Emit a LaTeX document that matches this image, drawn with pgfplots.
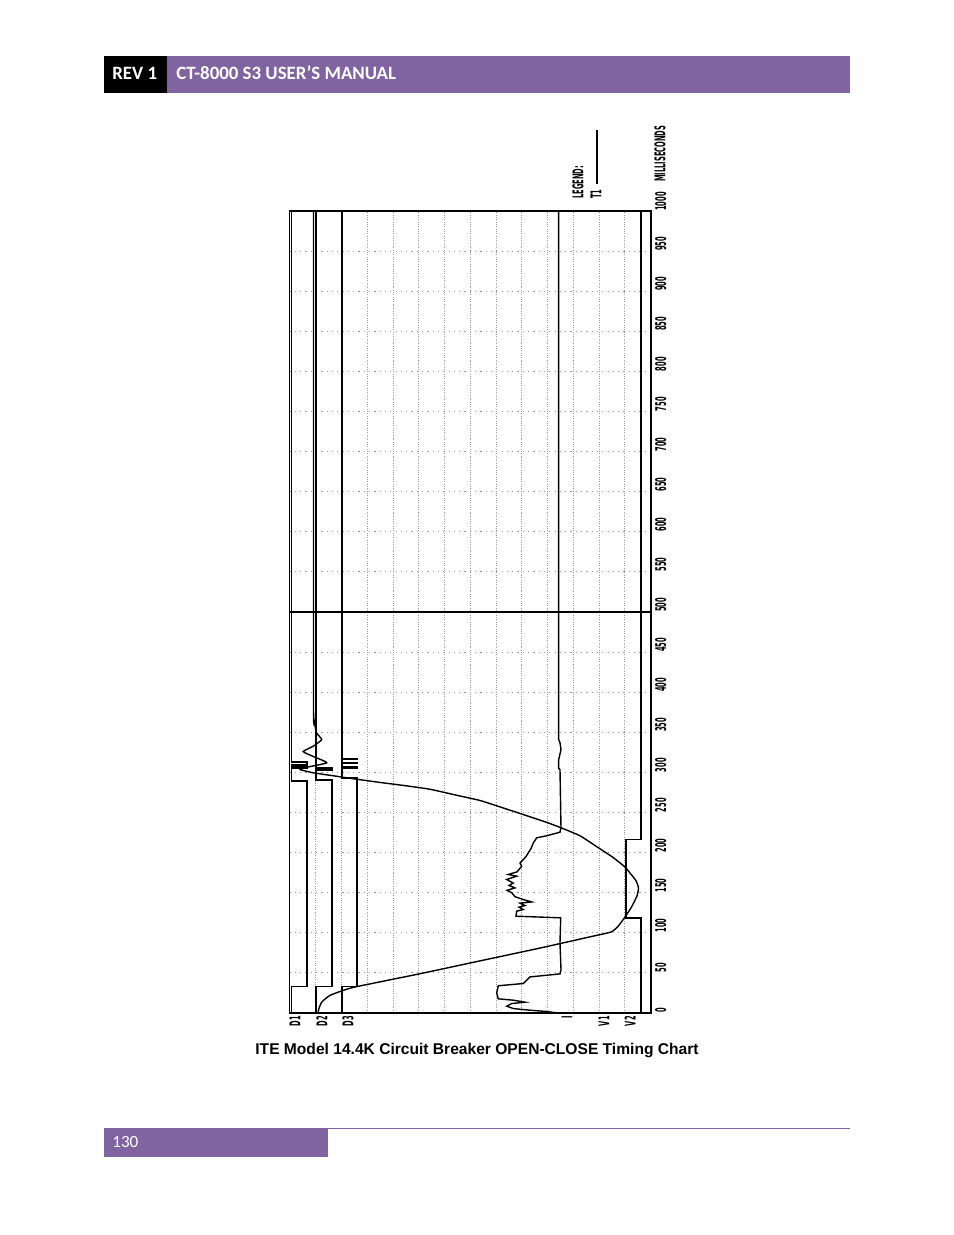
\documentclass[border=0pt]{standalone}
\usepackage{fontspec}
\setmainfont{Carlito}
\newfontfamily\capfont{Liberation Sans}
\newfontfamily\plotfont{DejaVu Sans}
\usepackage{graphicx}
\usepackage{pgfplots}
\pgfplotsset{compat=1.18}
\definecolor{hdrpurple}{HTML}{8064A2}
% condensed plotter lettering
\newcommand{\lbl}[1]{\scalebox{0.45}[1]{\plotfont\bfseries #1}}
\tikzset{plt/.style={rotate=90, inner sep=0pt, font=\fontsize{9.5}{11}\selectfont}}

\begin{document}
\begin{tikzpicture}
% page furniture, in reference pixels (y down)
\begin{scope}[x=0.6415pt, y=-0.6415pt]
\fill[white] (0,0) rectangle (954,1235);
\fill[black] (104,56) rectangle (167,93);
\fill[hdrpurple] (167,56) rectangle (850,93);
\node[anchor=base west, inner sep=0pt, text=white, font=\bfseries\fontsize{12.1}{14}\selectfont] at (112,79.5) {REV 1};
\node[anchor=base west, inner sep=0pt, text=white, font=\bfseries\fontsize{12.1}{14}\selectfont] at (176,79.5) {CT-8000 S3 USER’S MANUAL};
\draw[hdrpurple, line width=0.6pt] (104,1128.5) -- (850,1128.5);
\fill[hdrpurple] (104,1129) rectangle (328,1157);
\node[anchor=base west, inner sep=0pt, text=white, font=\fontsize{11}{13}\selectfont] at (112,1147) {130};
\node[anchor=base, inner sep=0pt, font=\capfont\bfseries\fontsize{10}{12}\selectfont] at (477,1054) {ITE Model 14.4K Circuit Breaker OPEN-CLOSE Timing Chart};
% channel names
\node[plt, anchor=east] at (295,1016) {\lbl{D1}};
\node[plt, anchor=east] at (322,1016) {\lbl{D2}};
\node[plt, anchor=east] at (348,1016) {\lbl{D3}};
\node[plt, anchor=east] at (567,1016) {\lbl{I}};
\node[plt, anchor=east] at (604,1016) {\lbl{V1}};
\node[plt, anchor=east] at (630,1016) {\lbl{V2}};
% legend and unit
\node[plt, anchor=west] at (578,199) {\lbl{LEGEND:}};
\node[plt, anchor=west] at (596,199) {\lbl{T1}};
\draw[line width=1pt] (597,184) -- (597,130);
\node[plt, anchor=west] at (660,182) {\lbl{MILLISECONDS}};
\end{scope}

\begin{axis}[
  at={(185.71pt,-649.84pt)}, anchor=south west,
  scale only axis, width=231.9pt, height=514.5pt,
  xmin=289.5, xmax=651, ymin=0, ymax=1000,
  axis line style={line width=1pt},
  xtick={315.75,341.5,367.25,393,418.75,444.5,470.25,496,521.75,547.5,573.25,599,624.75},
  xticklabels={},
  ytick={0,50,...,1000},
  yticklabel pos=right,
  yticklabel={\lbl{\pgfmathprintnumber{\tick}}},
  yticklabel style={rotate=90, anchor=north west, inner xsep=0pt, inner ysep=2.4pt,
                    font=\fontsize{9.5}{11}\selectfont},
  /pgf/number format/1000 sep={},
  /pgf/number format/assume math mode=true,
  major tick length=0pt,
  xmajorgrids, ymajorgrids,
  x grid style={gray!80, line width=0.5pt, dash pattern=on 0.6pt off 0.9pt},
  y grid style={gray!80, line width=0.6pt, dash pattern=on 0.8pt off 2.6pt},
]
% cursor at 500 ms
\addplot[black, line width=0.8pt] coordinates {(289.5,500)(651,500)};

% D1
\addplot[black, line width=1.2pt] coordinates {
  (291.5,0)(291.5,33)(306.7,33)(306.7,289)(291.5,289)(291.5,305)(306.7,305)
  (306.7,308)(291.5,308)(291.5,309.5)(306.7,309.5)(306.7,312.5)(291.5,312.5)(291.5,1000)};
% D2
\addplot[black, line width=1.2pt] coordinates {
  (316,0)(316,33)(331.7,33)(331.7,291)(316,291)(316,303)(331.7,303)(331.7,305.5)
  (316,305.5)(316,1000)};
% D3
\addplot[black, line width=1.1pt] coordinates {
  (341.7,0)(341.7,33)(357.3,33)(357.3,292.6)(341.7,292.6)(341.7,305)(357,305)
  (357,306.5)(341.7,306.5)(341.7,311.5)(357,311.5)(357,312.5)(341.7,312.5)
  (341.7,316.5)(357,316.5)(357,317.5)(341.7,317.5)(341.7,1000)};
% I
\addplot[black, line width=0.9pt] coordinates {
  (558,0)(546.7,1.9)(530,3.5)(513.3,5.6)(506.7,8.5)(511.7,11.8)(525,13.5)
  (513.3,16)(498.3,17.7)(496.7,25)(498.3,34)(523.3,36.8)(530,45)(560,48.8)
  (561,54)(560,87.5)(560.7,118.7)(516,120.7)(516.7,127)(523.3,129)(519,132)
  (525,134)(520,137)(531.7,138.5)(523.3,141.5)(515,145)(511.7,150)(507,153)
  (515,156)(509,159)(513.3,162)(506.7,166.5)(516.7,170.6)(508.3,172.7)
  (517,176)(521.7,183)(520,187)(523.3,191.4)(526,195)(528.3,199.8)(531,205)
  (533.3,212)(536.7,218.5)(546.7,221)(560,225.5)(561,231)(560,303.6)
  (558.7,305)(558.7,316)(561,328.5)(560,337)(558.7,341)(558.7,1000)};
% V1
\addplot[black, line width=0.9pt, smooth, tension=0.3] coordinates {
  (318,0)(319,6)(322,14)(330,22)(345,29)(357,33)(420,49)(480,65)(540,81)
  (590,95)(611,101)(618,108)(624,118)(631,131)(637,146)(638.5,156)(636,165)
  (631,173)(625,182)(613,194)(596,208)(580,221)(561,231)(546,238)(522,248)
  (500,257)(480,265)(455,272)(430,279)(405,283.5)(380,287.5)(356.7,291.5)
  (335,295.5)(313.3,299.5)(300,303.6)(305,306)(326.7,312)(313,320)(303.3,326)
  (313.3,332.7)(321.7,341)(316.7,349)(314,366)(313.5,400)(313.5,1000)};
% V2
\addplot[black, line width=1.2pt] coordinates {
  (641,0)(641,118.7)(625.7,118.7)(625.7,216.3)(641,216.3)(641,1000)};
\end{axis}
\end{tikzpicture}
\end{document}
